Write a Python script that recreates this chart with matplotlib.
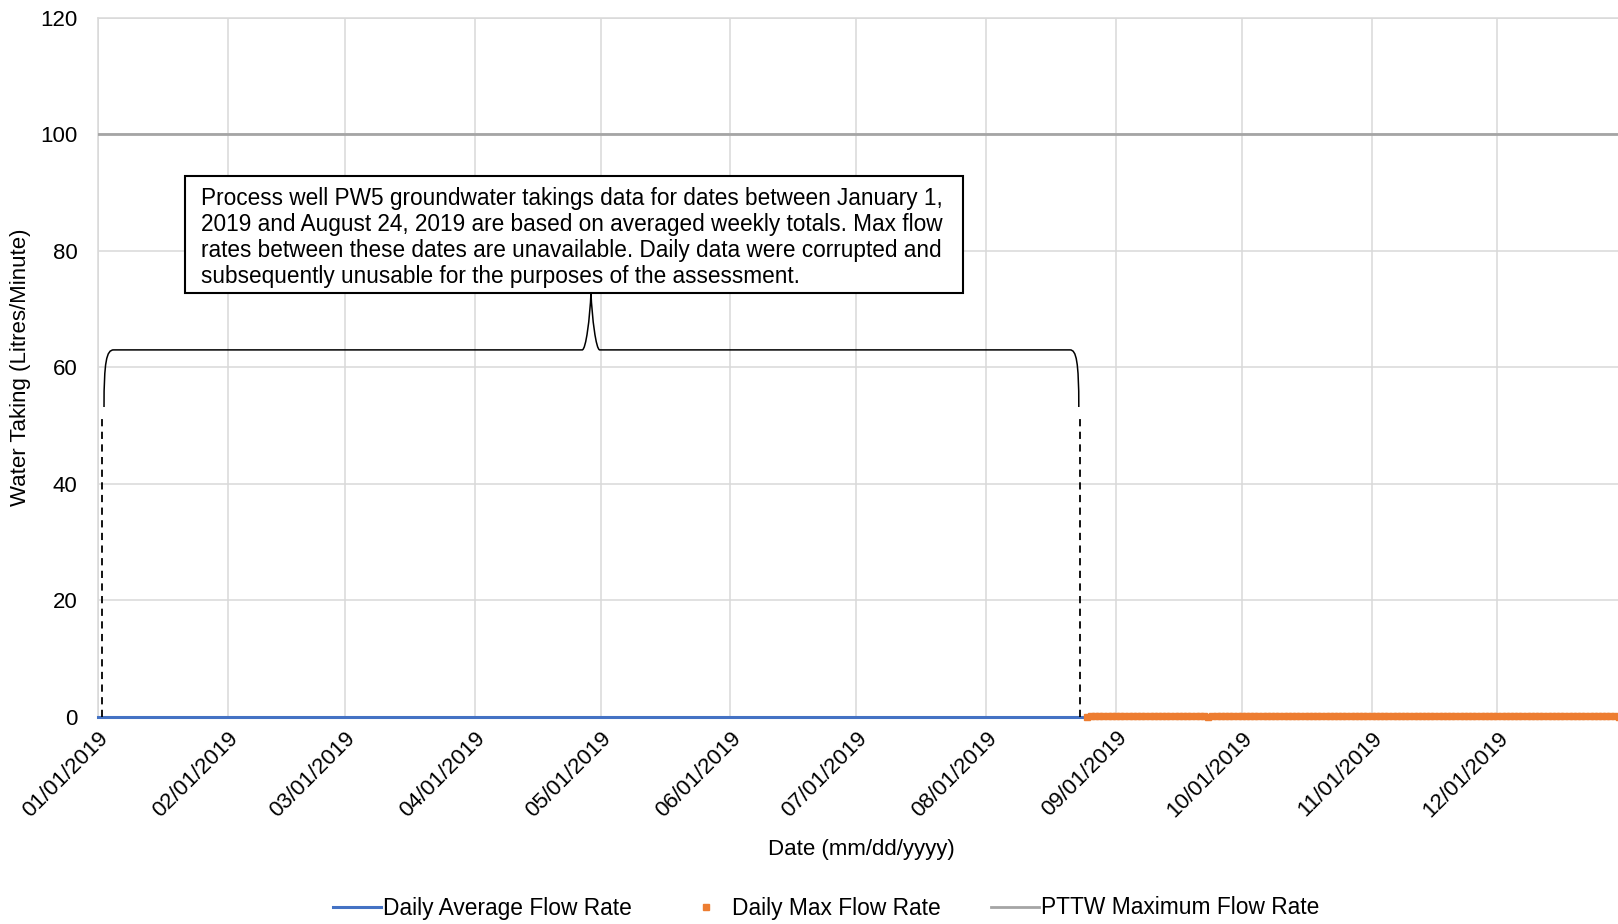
import matplotlib
matplotlib.use("Agg")
import matplotlib.pyplot as plt
import matplotlib.dates as mdates
from matplotlib.path import Path
from matplotlib.patches import PathPatch, Rectangle
import pandas as pd

plt.rcParams['font.family'] = ['Liberation Sans', 'DejaVu Sans']

#  data  #

# daily average flow, rebuilt from weekly totals (Jan 1 - Aug 24)
avg_dates = pd.date_range("2019-01-01", "2019-08-24", freq="D")
avg_flow = [0.0] * len(avg_dates)

# daily max flow from the logger (Aug 25 - Dec 31)
max_dates = pd.date_range("2019-08-25", "2019-12-31", freq="D")
aug_max = [0.0, 0.1, 0.1, 0.1, 0.1, 0.1, 0.1]
sep_max = [0.1, 0.1, 0.1, 0.1, 0.1, 0.1, 0.1, 0.1, 0.1, 0.1,
           0.1, 0.1, 0.1, 0.1, 0.1, 0.1, 0.1, 0.1, 0.1, 0.1,
           0.1, 0.1, 0.0, 0.1, 0.1, 0.1, 0.1, 0.1, 0.1, 0.1]
oct_max = [0.1, 0.1, 0.1, 0.1, 0.1, 0.1, 0.1, 0.1, 0.1, 0.1,
           0.1, 0.1, 0.1, 0.1, 0.1, 0.1, 0.1, 0.1, 0.1, 0.1,
           0.1, 0.1, 0.1, 0.1, 0.1, 0.1, 0.1, 0.1, 0.1, 0.1, 0.1]
nov_max = [0.1, 0.1, 0.1, 0.1, 0.1, 0.1, 0.1, 0.1, 0.1, 0.1,
           0.1, 0.1, 0.1, 0.1, 0.1, 0.1, 0.1, 0.1, 0.1, 0.1,
           0.1, 0.1, 0.1, 0.1, 0.1, 0.1, 0.1, 0.1, 0.1, 0.1]
dec_max = [0.1, 0.1, 0.1, 0.1, 0.1, 0.1, 0.1, 0.1, 0.1, 0.1,
           0.1, 0.1, 0.1, 0.1, 0.1, 0.1, 0.1, 0.1, 0.1, 0.1,
           0.1, 0.1, 0.1, 0.1, 0.1, 0.1, 0.1, 0.1, 0.1, 0.0, 0.0]
max_flow = aug_max + sep_max + oct_max + nov_max + dec_max

# permit limit
pttw_dates = [pd.Timestamp("2019-01-01"), pd.Timestamp("2019-12-31")]
pttw_flow = [100, 100]

month_ticks = pd.date_range("2019-01-01", "2019-12-01", freq="MS")

# annotation anchors (dates / flow values)
gap_start = pd.Timestamp("2019-01-01 22:00")
gap_end = pd.Timestamp("2019-08-23 07:00")
brace_left = pd.Timestamp("2019-01-02 12:00")
brace_right = pd.Timestamp("2019-08-23 03:00")
brace_tip = pd.Timestamp("2019-04-28 17:00")
note_left = pd.Timestamp("2019-01-21 17:00")
note_right = pd.Timestamp("2019-07-26 12:00")
note_text_x = pd.Timestamp("2019-01-25 15:00")
note = ("Process well PW5 groundwater takings data for dates between January 1,\n"
        "2019 and August 24, 2019 are based on averaged weekly totals. Max flow\n"
        "rates between these dates are unavailable. Daily data were corrupted and\n"
        "subsequently unusable for the purposes of the assessment.")

#  figure  #

fig = plt.figure(figsize=(16.18, 9.24), dpi=100)
ax = fig.add_axes([0.0604, 0.224, 0.9396, 0.7568])

grid_c = "#D9D9D9"
ax.plot(avg_dates, avg_flow, color="#4472C4", lw=2.2, label="Daily Average Flow Rate",
        zorder=4, clip_on=False)
ax.plot(max_dates, max_flow, ls="none", marker="s", ms=4.5, color="#ED7D31",
        mec="#ED7D31", label="Daily Max Flow Rate", zorder=4, clip_on=False)
ax.plot(pttw_dates, pttw_flow, color="#A5A5A5", lw=2.0, label="PTTW Maximum Flow Rate", zorder=3)

ax.set_xlim(pd.Timestamp("2019-01-01"), pd.Timestamp("2019-01-01") + pd.Timedelta(days=362.8))
ax.set_ylim(0, 120)
ax.set_yticks(range(0, 121, 20))
ax.set_xticks(month_ticks)
ax.xaxis.set_major_formatter(mdates.DateFormatter("%m/%d/%Y"))

ax.grid(True, color=grid_c, lw=1.1)
ax.set_axisbelow(True)
for side in ["left", "top", "bottom"]:
    ax.spines[side].set_color(grid_c)
    ax.spines[side].set_linewidth(1.1)
ax.spines["right"].set_visible(False)

ax.tick_params(axis="both", length=0, labelsize=16, colors="black")
ax.tick_params(axis="y", pad=14.5)
ax.tick_params(axis="x", pad=7.5)
for lbl in ax.get_xticklabels():
    lbl.set_rotation(45)
    lbl.set_ha("right")
    lbl.set_va("top")
    lbl.set_rotation_mode("anchor")

ax.set_ylabel("Water Taking (Litres/Minute)", fontsize=16, va="center")
ax.yaxis.set_label_coords(-0.0507, 0.5)
ax.set_xlabel("Date (mm/dd/yyyy)", fontsize=16, va="center")
ax.xaxis.set_label_coords(0.5025, -0.1888)

# dashed markers for the averaged period
for d in [gap_start, gap_end]:
    ax.plot([d, d], [0, 51.3], color="black", lw=1.3, ls=(0, (4, 3)), zorder=5)

# curly brace over the averaged period
L = mdates.date2num(brace_left)
R = mdates.date2num(brace_right)
P = mdates.date2num(brace_tip)
y0, y1, y2 = 53.2, 63.0, 72.8
verts = [(L, y0),
         (L, 61.0), (L + 0.6, y1), (L + 2.3, y1),
         (P - 2.1, y1),
         (P - 1.2, y1), (P - 0.25, 68.5), (P, y2),
         (P + 0.25, 68.5), (P + 1.2, y1), (P + 2.1, y1),
         (R - 2.1, y1),
         (R - 0.6, y1), (R, 61.0), (R, y0)]
codes = [Path.MOVETO,
         Path.CURVE4, Path.CURVE4, Path.CURVE4,
         Path.LINETO,
         Path.CURVE4, Path.CURVE4, Path.CURVE4,
         Path.CURVE4, Path.CURVE4, Path.CURVE4,
         Path.LINETO,
         Path.CURVE4, Path.CURVE4, Path.CURVE4]
ax.add_patch(PathPatch(Path(verts, codes), fill=False, color="black", lw=1.1, zorder=5))

# note box
nl = mdates.date2num(note_left)
nr = mdates.date2num(note_right)
ax.add_patch(Rectangle((nl, y2), nr - nl, 92.8 - y2, facecolor="white",
                       edgecolor="black", lw=1.5, zorder=6))
ax.text(note_text_x, 82.3, note, fontsize=16.3, ha="left", va="center",
        linespacing=1.17, zorder=7)

fig.legend(loc="center", bbox_to_anchor=(0.5105, 1 - 908 / 924), ncol=3, frameon=False,
           fontsize=16.4, handlelength=2.1, handletextpad=0.1, columnspacing=2.2,
           markerscale=1.0)

fig.savefig("out.png", dpi=100)
